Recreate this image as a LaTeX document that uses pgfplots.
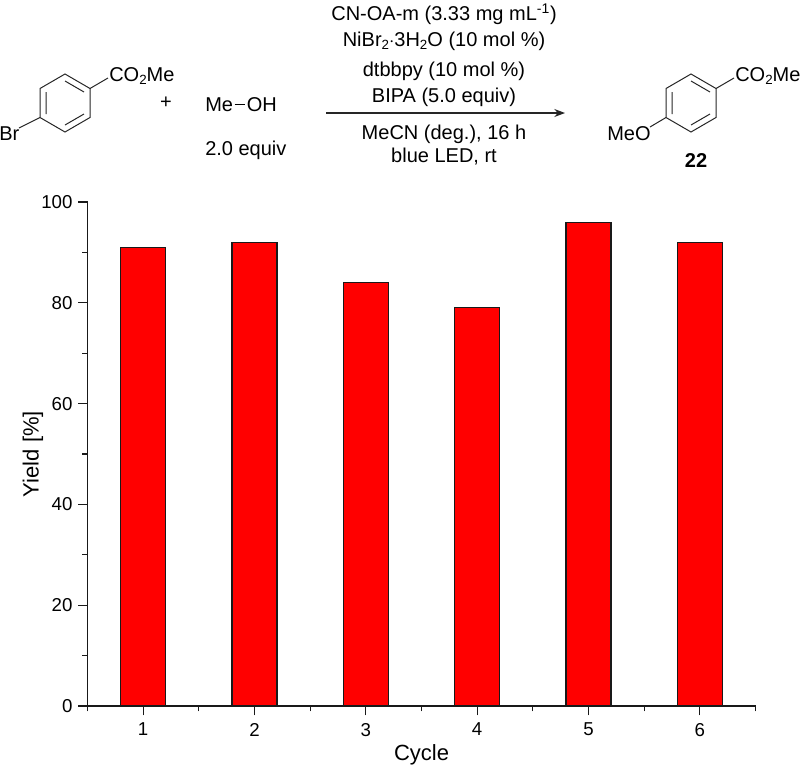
\documentclass[border=0pt]{standalone}
\usepackage{fontspec}
\setmainfont{Liberation Sans}
\usepackage{pgfplots}
\pgfplotsset{compat=1.18}
\usetikzlibrary{arrows.meta}
\newcommand{\sub}[1]{\raisebox{-0.35ex}{\fontsize{10}{12}\selectfont #1}}
\begin{document}
\begin{tikzpicture}[x=0.75pt,y=-0.75pt,chem/.style={line width=0.75pt,black!85},txt/.style={inner sep=0pt,font=\fontsize{15}{17}\selectfont}]
\useasboundingbox (0,0) rectangle (800,768);
\begin{axis}[
  at={(65.625pt,-529.5pt)}, anchor=south west,
  x=83.5pt, y=3.78pt,
  xmin=0.5, xmax=6.5, ymin=0, ymax=100,
  axis lines=left, axis line style={-, line width=0.95pt, black!90},
  xtick={1,2,3,4,5,6},
  minor xtick={0.5,1.5,2.5,3.5,4.5,5.5,6.5},
  ytick={0,20,40,60,80,100},
  minor ytick={10,30,50,70,90},
  tick align=outside,
  major tick length=7pt, minor tick length=4pt,
  every tick/.style={line width=0.95pt, black!90},
  minor tick style={line width=0.95pt, black!90},
  tick label style={font=\fontsize{14}{16}\selectfont},
  xticklabel style={yshift=-2.25pt},
  yticklabel style={xshift=-0.75pt},
  /pgf/number format/assume math mode=true,
  xlabel={Cycle}, ylabel={Yield [\%]},
  label style={font=\fontsize{16.5}{18}\selectfont},
  xlabel style={at={(axis description cs:0.5,0)}, anchor=center, yshift=-36.5pt},
  ylabel style={at={(axis description cs:0,0.5)}, anchor=center, yshift=41pt},
  ybar, bar width=33.75pt,
]
\addplot[fill=red, draw=black!90, line width=0.85pt] coordinates
  {(1,91)(2,92)(3,84)(4,79)(5,96)(6,92)};
\end{axis}
% scheme above the plot
\node[txt] at (444,14) {CN-OA-m (3.33 mg mL\textsuperscript{-1})};
\node[txt] at (444,41) {NiBr\sub{2}$\cdot$3H\sub{2}O (10 mol \%)};
\node[txt] at (444,71) {dtbbpy (10 mol \%)};
\node[txt] at (444,97) {BIPA (5.0 equiv)};
\node[txt] at (444,134) {MeCN (deg.), 16 h};
\node[txt] at (444,157) {blue LED, rt};
\draw[line width=0.9pt,black!85,-{Stealth[length=8pt,width=6pt]}] (326,113) -- (565,113);
\node[txt] at (166,103) {+};
\node[txt,anchor=west] at (205,105) {Me\hspace{1.2pt}\rule[0.35em]{8pt}{0.6pt}\hspace{1.2pt}OH};
\node[txt,anchor=west] at (205,150) {2.0 equiv};
% aryl bromide
\draw[chem] (65,74)--(90,88.5)--(90,117.5)--(65,132)--(40,117.5)--(40,88.5)--cycle;
\draw[chem] (65,81)--(84,92) (84,114)--(65,125) (46,114)--(46,92);
\draw[chem] (90,88.5)--(108,78) (40,117.5)--(19,128);
\node[txt,anchor=west] at (109,76) {CO\sub{2}Me};
\node[txt,anchor=west] at (-1,134) {Br};
% product
\draw[chem] (691,74)--(716,88.5)--(716,117.5)--(691,132)--(666,117.5)--(666,88.5)--cycle;
\draw[chem] (691,81)--(710,92) (710,114)--(691,125) (672,114)--(672,92);
\draw[chem] (716,88.5)--(734,78) (666,117.5)--(650,127);
\node[txt,anchor=west] at (735,76) {CO\sub{2}Me};
\node[txt,anchor=west] at (607,134) {MeO};
\node[txt,font=\fontsize{15}{17}\selectfont\bfseries] at (696,161) {22};
\end{tikzpicture}
\end{document}
